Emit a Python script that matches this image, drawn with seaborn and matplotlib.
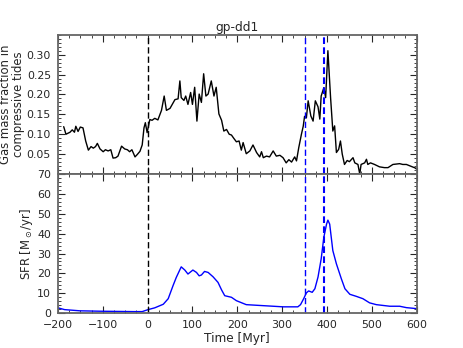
import numpy as np
import pandas as pd
import seaborn as sns
import matplotlib
matplotlib.use("Agg")
import matplotlib.pyplot as plt
from matplotlib.ticker import MultipleLocator

# gas mass fraction in compressive tides (black curve, top panel)
tide_time = [-187, -182, -173, -168, -163, -160, -155, -150, -144, -138, -132, -126,
             -121, -116, -112, -106, -99, -94, -88, -82, -77, -71, -66, -58, -51, -45,
             -40, -35, -28, -23, -17, -12, -8, -5, -1, 5, 10, 16, 23, 31, 37, 42, 50,
             55, 61, 68, 72, 75, 81, 85, 90, 96, 100, 105, 110, 115, 120, 125, 130,
             135, 142, 148, 153, 159, 165, 170, 176, 182, 187, 192, 198, 204, 209,
             213, 220, 228, 235, 243, 250, 254, 258, 265, 272, 280, 287, 295, 302,
             309, 315, 321, 328, 332, 337, 343, 347, 350, 354, 358, 364, 369, 374,
             380, 384, 387, 393, 397, 402, 408, 413, 417, 421, 426, 430, 434, 439,
             445, 450, 458, 462, 469, 473, 476, 484, 488, 491, 497, 506, 517, 528,
             536, 547, 562, 569, 577, 588, 597, 600]
tide_frac = [0.119, 0.100, 0.105, 0.111, 0.105, 0.120, 0.107, 0.118, 0.116, 0.083,
             0.060, 0.069, 0.065, 0.069, 0.077, 0.063, 0.056, 0.061, 0.058, 0.061,
             0.040, 0.041, 0.045, 0.070, 0.063, 0.061, 0.056, 0.061, 0.043, 0.049,
             0.057, 0.073, 0.116, 0.129, 0.104, 0.137, 0.135, 0.140, 0.136, 0.160,
             0.196, 0.160, 0.165, 0.175, 0.187, 0.189, 0.234, 0.192, 0.185, 0.196,
             0.175, 0.205, 0.175, 0.218, 0.133, 0.201, 0.180, 0.252, 0.196, 0.201,
             0.234, 0.196, 0.218, 0.151, 0.135, 0.108, 0.112, 0.100, 0.098, 0.090,
             0.081, 0.083, 0.060, 0.079, 0.051, 0.058, 0.073, 0.054, 0.043, 0.056,
             0.041, 0.045, 0.043, 0.058, 0.045, 0.047, 0.041, 0.028, 0.036, 0.030,
             0.043, 0.033, 0.066, 0.100, 0.120, 0.145, 0.141, 0.184, 0.146, 0.133,
             0.184, 0.169, 0.138, 0.196, 0.217, 0.192, 0.310, 0.192, 0.108, 0.121,
             0.054, 0.062, 0.083, 0.050, 0.024, 0.034, 0.031, 0.041, 0.028, 0.024,
             0.000, 0.024, 0.028, 0.037, 0.024, 0.028, 0.024, 0.018, 0.016, 0.016,
             0.024, 0.026, 0.024, 0.024, 0.019, 0.015, 0.012]

# star formation rate (blue curve, bottom panel)
sfr_time = [-200, -185, -151, -106, -32, -12, 1, 16, 35, 46, 57, 64, 75, 83, 90,
            101, 109, 115, 120, 127, 135, 146, 157, 165, 172, 187, 198, 220, 242,
            280, 302, 335, 341, 348, 354, 359, 367, 373, 380, 387, 393, 399, 402,
            406, 413, 421, 432, 440, 451, 465, 480, 495, 510, 540, 562, 577, 600]
sfr = [2.7, 1.8, 1.2, 1.0, 0.8, 0.8, 1.8, 2.7, 4.5, 7.3, 14.0, 18.0, 23.3, 21.7,
       19.7, 21.7, 20.5, 18.8, 19.2, 21.0, 20.5, 18.3, 15.5, 11.7, 8.8, 8.0, 6.3,
       4.3, 4.0, 3.5, 3.2, 3.2, 4.3, 7.3, 10.2, 11.2, 10.5, 12.3, 18.2, 27.3, 38.2,
       44.8, 46.8, 44.8, 31.5, 24.8, 17.3, 12.3, 9.5, 8.5, 7.3, 5.2, 4.3, 3.5, 3.5,
       2.8, 2.3]

merger_time = 0
burst_times = [350, 393]

sns.set_style("ticks")
plt.rcParams['font.family'] = ['DejaVu Sans']
plt.rcParams['xtick.direction'] = 'in'
plt.rcParams['ytick.direction'] = 'in'

fig, (ax1, ax2) = plt.subplots(2, 1, sharex=True, figsize=(4.63, 3.48), dpi=100)
fig.subplots_adjust(left=0.125, right=0.9, bottom=0.1, top=0.9, hspace=0)

tides = pd.DataFrame({"time": tide_time, "frac": tide_frac})
sfr_df = pd.DataFrame({"time": sfr_time, "sfr": sfr})

sns.lineplot(data=tides, x="time", y="frac", ax=ax1, color="black", lw=1.0)
sns.lineplot(data=sfr_df, x="time", y="sfr", ax=ax2, color="blue", lw=1.0)

dash = (0, (4.5, 2.2))
for ax in (ax1, ax2):
    ax.axvline(merger_time, color="black", ls=dash, lw=1.0)
    ax.axvline(burst_times[0], color="blue", ls=dash, lw=1.0)
    ax.axvline(burst_times[1], color="blue", ls=(0, (3.2, 1.6)), lw=1.5)
    ax.set_xlim(-200, 600)
    ax.xaxis.set_major_locator(MultipleLocator(100))
    ax.xaxis.set_minor_locator(MultipleLocator(25))
    ax.tick_params(which="both", top=True, right=True, labelsize=7.9, pad=5)
    ax.tick_params(which="major", length=5, width=0.8)
    ax.tick_params(which="minor", length=2.5, width=0.6)
    for s in ax.spines.values():
        s.set_color("0.4")
        s.set_linewidth(1.3)

ax1.set_ylim(0, 0.35)
ax1.yaxis.set_minor_locator(MultipleLocator(0.01))
ax1.set_yticks([0.05, 0.10, 0.15, 0.20, 0.25, 0.30])
ax1.set_yticklabels(["0.05", "0.10", "0.15", "0.20", "0.25", "0.30"])
ax1.set_ylabel("Gas mass fraction in\ncompressive tides", fontsize=8.4,
               linespacing=1.0, labelpad=1)
ax1.set_xlabel("")
ax1.set_title("gp-dd1", fontsize=8.7, pad=3)

ax2.set_ylim(0, 70)
ax2.yaxis.set_major_locator(MultipleLocator(10))
ax2.yaxis.set_minor_locator(MultipleLocator(2))
ax2.set_ylabel(r"SFR [M$_\odot$/yr]", fontsize=8.4, labelpad=1.5)
ax2.set_xlabel("Time [Myr]", fontsize=8.7, labelpad=1)

fig.savefig("out.png", dpi=100)
